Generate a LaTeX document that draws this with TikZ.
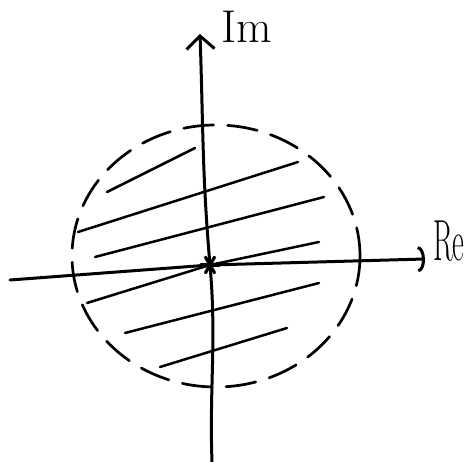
\documentclass[tikz,border=0pt]{standalone}
\usepackage{fontspec}
\usepackage{graphicx}
\usetikzlibrary{arrows.meta,calc}
\tikzset{
  axis/.style={line width=3pt, line cap=round},
  im arrow/.style={axis, -{Straight Barb[length=13pt, width=28pt, line width=3pt]}},
  re arrow/.style={axis, -{Arc Barb[length=7pt, width=26pt, line width=3pt]}},
  hatch/.style={line width=2.5pt, line cap=round},
  boundary/.style={line width=2.7pt, dash pattern=on 30pt off 14pt, line cap=round},
  label/.style={inner sep=0pt},
  star ray/.style={line width=3.2pt, line cap=round},
}

\begin{document}
\begin{tikzpicture}[x=1pt, y=-1pt]
  \useasboundingbox (0,0) rectangle (467,462);

  % Axes
  \coordinate (O) at (210,265);
  \coordinate (im top) at (200,34);
  \coordinate (im bot) at (212,462);
  \coordinate (re left) at (10,280);
  \coordinate (re right) at (425,259);
  \draw[axis] (im bot) to[out=92, in=-85] (O);
  \draw[im arrow] (O) to[out=95, in=-88] (im top);
  \draw[axis] (re left) -- (O);
  \draw[re arrow] (O) -- (re right);

  % Boundary of the disc (dashed)
  \draw[boundary] (216,256) ellipse[x radius=144, y radius=131];

  % Hatching
  \draw[hatch] (107,192) -- (195,148);
  \draw[hatch] (78,232) -- (298,162);
  \draw[hatch] (95,257) -- (324,197);
  \draw[hatch] (87,303) -- (O) -- (319,242);
  \draw[hatch] (125,333) -- (319,283);
  \draw[hatch] (160,367) -- (287,328);

  % Point at the origin
  \foreach \a in {0,60,120}
    \draw[star ray] ($(O)+(\a:9)$) -- ($(O)+(\a+180:9)$);

  % Labels
  \node[label, font=\fontsize{46pt}{46pt}\selectfont] (im) at (247,27) {Im};
  \node[label, font=\fontsize{58pt}{58pt}\selectfont, anchor=west] (re) at (433,241) {\scalebox{0.5}[1]{Re}};
\end{tikzpicture}
\end{document}
